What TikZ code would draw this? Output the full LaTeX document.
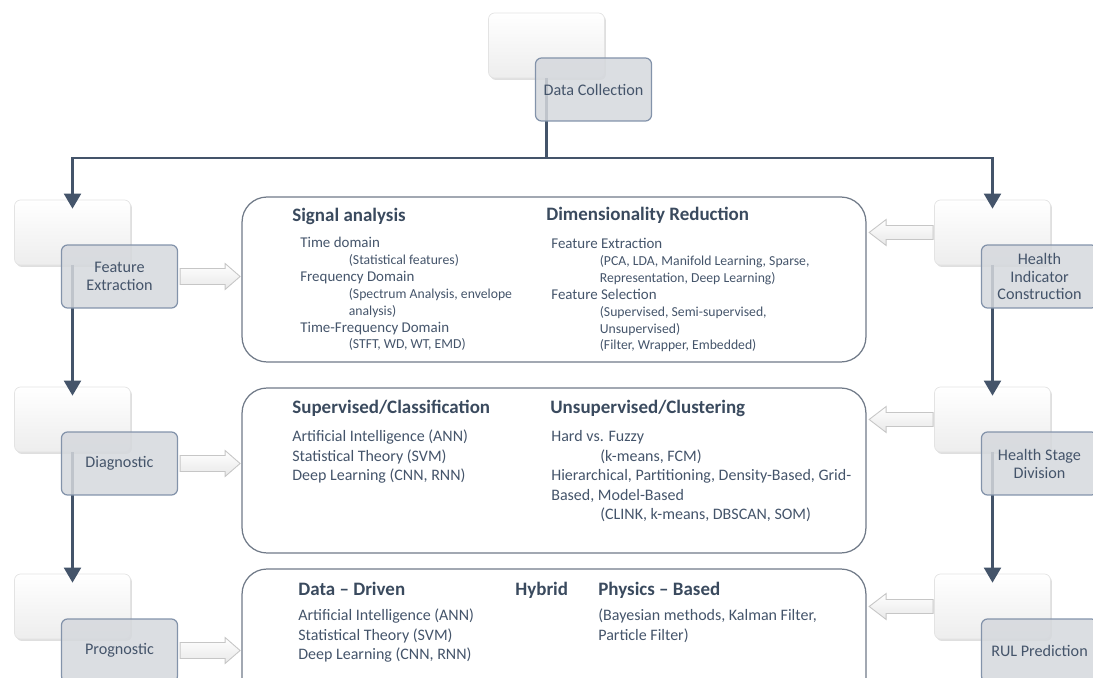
\documentclass[tikz,border=0pt]{standalone}
\usepackage{fontspec}
\setmainfont{Carlito}
\usetikzlibrary{arrows.meta,shadows}
\definecolor{slate}{HTML}{44546A}
\definecolor{headc}{HTML}{3A4A5E}
\definecolor{greyfill}{HTML}{D5D8DD}
\definecolor{greyline}{HTML}{8393AA}
\definecolor{panelline}{HTML}{707A88}
\tikzset{
  blank/.style={rectangle, rounded corners=0.12cm, minimum width=2.32cm, minimum height=1.3cm,
    draw=gray!22, top color=white, bottom color=gray!14,
    drop shadow={shadow xshift=0.03cm, shadow yshift=-0.04cm, opacity=0.25}},
  stage/.style={rectangle, rounded corners=0.12cm, minimum width=2.32cm, minimum height=1.26cm,
    draw=greyline, line width=0.7pt, fill=greyfill, fill opacity=0.85, text opacity=1,
    text=slate, align=center, font=\fontsize{9.2}{10.2}\selectfont},
  panel/.style={rectangle, draw=panelline, line width=0.7pt, rounded corners=0.5cm,
    minimum width=12.48cm, minimum height=3.3cm},
  link/.style={draw=slate, line width=1.2pt},
  flow/.style={link, -{Triangle[width=0.34cm,length=0.3cm]}, shorten >=-0.18cm},
  hollow/.style={draw=gray!45, line width=0.5pt, top color=white, bottom color=gray!18},
  head/.style={anchor=base west, inner sep=0pt, text=headc, font=\fontsize{10.8}{12}\selectfont\bfseries},
  % multi-line texts sit on the baseline of their last line
  body/.style={anchor=base west, inner sep=0pt, text=slate, align=left, font=\fontsize{8.5}{9.64}\selectfont},
  bodyl/.style={body, font=\fontsize{9.1}{11.1}\selectfont},
}
\newcommand{\subline}[1]{\hspace*{0.97cm}{\fontsize{7.8}{9.64}\selectfont #1}}
\newcommand{\indentl}{\hspace*{0.98cm}}
\begin{document}
\begin{tikzpicture}[x=0.02cm, y=-0.02cm]
\useasboundingbox (0,0) rectangle (1093,678);
\clip (0,0) rectangle (1093,678);
% back cards
\node[blank] (dcw) at (546.5,45.5) {};
\node[blank] (few) at (72.5,232.5) {};
\node[blank] (dgw) at (72.5,419.5) {};
\node[blank] (pgw) at (72.5,606.5) {};
\node[blank] (hicw) at (992.5,232.5) {};
\node[blank] (hsdw) at (992.5,419.5) {};
\node[blank] (rulw) at (992.5,606.5) {};
% main flow
\coordinate (fork) at (dcw.south |- 0,158);
\draw[link] (dcw.south) -- (fork);
\draw[flow] (fork) -| (few.north);
\draw[flow] (fork) -| (hicw.north);
\draw[flow] (few.south) -- (dgw.north);
\draw[flow] (dgw.south) -- (pgw.north);
\draw[flow] (hicw.south) -- (hsdw.north);
\draw[flow] (hsdw.south) -- (rulw.north);
% stage labels
\node[stage] (dc) at ([shift={(47,44)}]dcw.center) {Data Collection};
\node[stage] (fe) at ([shift={(47,44)}]few.center) {Feature\\Extraction};
\node[stage] (dg) at ([shift={(47,44)}]dgw.center) {Diagnostic};
\node[stage] (pg) at ([shift={(47,44)}]pgw.center) {Prognostic};
\node[stage] (hic) at ([shift={(47,44)}]hicw.center) {Health\\Indicator\\Construction};
\node[stage] (hsd) at ([shift={(47,44)}]hsdw.center) {Health Stage\\Division};
\node[stage] (rul) at ([shift={(47,44)}]rulw.center) {RUL Prediction};
% panels
\node[panel] (sig) at (554,279.5) {};
\node[panel] (cls) at (554,470.5) {};
\node[panel] (prd) at (554,651.5) {};
% hollow arrows
\foreach \s in {fe,dg,pg}
  \draw[hollow] (\s.east) ++(2,-8) -- ++(45,0) -- ++(0,-5) -- ++(15,13) -- ++(-15,13) -- ++(0,-5) -- ++(-45,0) -- cycle;
\foreach \s in {hicw,hsdw,rulw}
  \draw[hollow] (\s.west) ++(-1,-7) -- ++(-47,0) -- ++(0,-6) -- ++(-17,13) -- ++(17,13) -- ++(0,-6) -- ++(47,0) -- cycle;
% panel texts
\node[head] (sigh) at (292,222) {Signal analysis};
\node[body] (sigb) at (300,349) {Time domain\\ \subline{(Statistical features)}\\ Frequency Domain\\
  \subline{(Spectrum Analysis, envelope}\\ \subline{analysis)}\\ Time-Frequency Domain\\ \subline{(STFT, WD, WT, EMD)}};
\node[head] (dimh) at (546,221) {Dimensionality Reduction};
\node[body] (dimb) at (551,350) {Feature Extraction\\ \subline{(PCA, LDA, Manifold Learning, Sparse,}\\
  \subline{Representation, Deep Learning)}\\ Feature Selection\\ \subline{(Supervised, Semi-supervised,}\\
  \subline{Unsupervised)}\\ \subline{(Filter, Wrapper, Embedded)}};
\node[head] (suph) at (292,414) {Supervised/Classification};
\node[bodyl] (supb) at (292,481) {Artificial Intelligence (ANN)\\ Statistical Theory (SVM)\\ Deep Learning (CNN, RNN)};
\node[head] (unsh) at (550,414) {Unsupervised/Clustering};
\node[bodyl] (unsb) at (551,520) {Hard vs. Fuzzy\\ \indentl(k-means, FCM)\\
  Hierarchical, Partitioning, Density-Based, Grid-\\ Based, Model-Based\\ \indentl(CLINK, k-means, DBSCAN, SOM)};
\node[head] (ddh) at (298,596) {Data – Driven};
\node[head] (hyh) at (515,596) {Hybrid};
\node[head] (pbh) at (598,596) {Physics – Based};
\node[bodyl] (ddb) at (298,660) {Artificial Intelligence (ANN)\\ Statistical Theory (SVM)\\ Deep Learning (CNN, RNN)};
\node[bodyl] (pbb) at (598,640.5) {(Bayesian methods, Kalman Filter,\\ Particle Filter)};
\end{tikzpicture}
\end{document}
